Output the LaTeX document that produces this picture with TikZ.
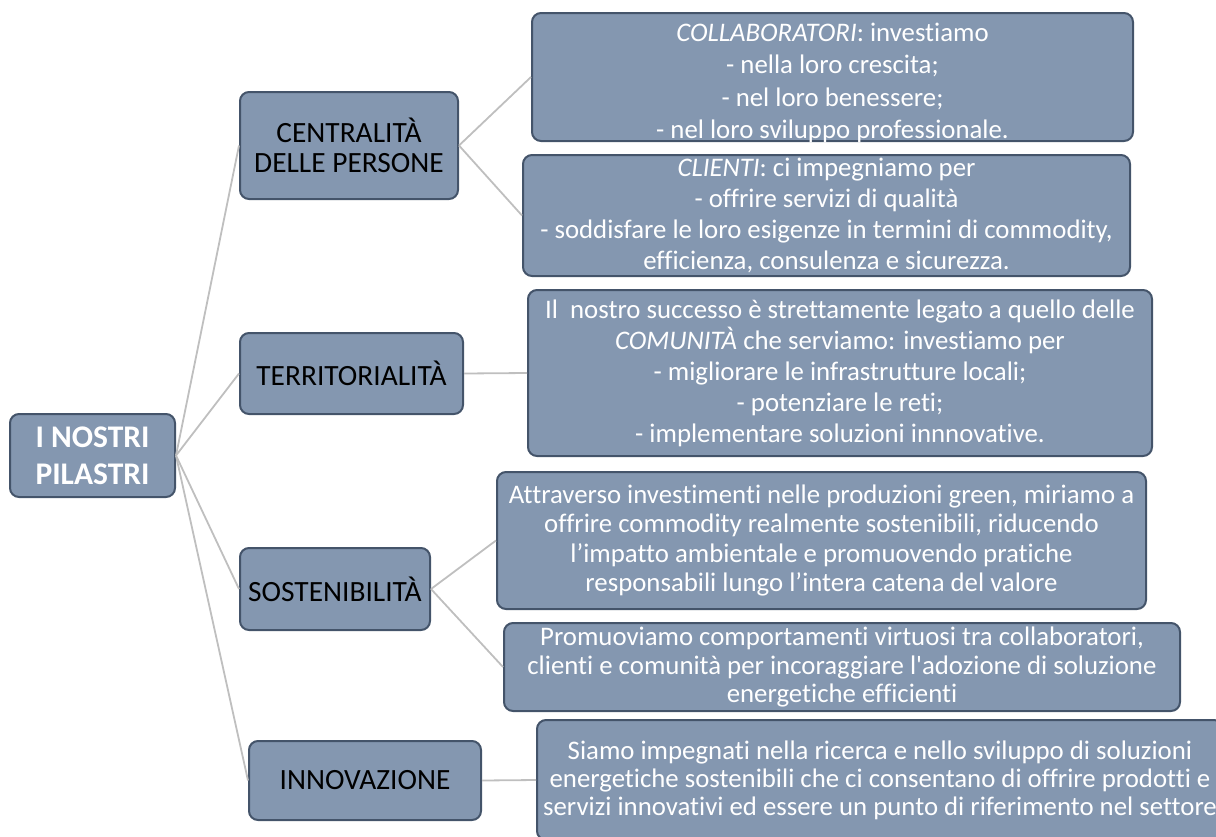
\documentclass[tikz,border=0pt]{standalone}
\usepackage{fontspec}
\setmainfont{Carlito}[Ligatures={TeXOff,NoCommon}]
\definecolor{boxfill}{HTML}{8497B0}
\definecolor{boxedge}{HTML}{44546A}
\definecolor{linkgray}{HTML}{BFBFBF}
\tikzset{
  box/.style={draw=boxedge, fill=boxfill, line width=2pt, rounded corners=9pt,
    align=center, inner sep=0pt, anchor=center},
  rootbox/.style={box, text=white, font=\bfseries\fontsize{31.5}{37}\selectfont},
  pillar/.style={box, text=black, font=\fontsize{29.4}{30}\selectfont},
  detail/.style={box, text=white, font=\fontsize{26.8}{31}\selectfont},
  detailtext/.style={text=white, align=center, inner sep=0pt, font=\fontsize{26.8}{32.5}\selectfont},
  link/.style={draw=linkgray, line width=1.8pt}
}
\begin{document}
\begin{tikzpicture}[x=1pt,y=-1pt]
\useasboundingbox (0,0) rectangle (1216,836);
\clip (0,0) rectangle (1216,836);

% root
\node[rootbox, minimum width=165pt, minimum height=83pt] (root) at (92.5,455.5)
  {I NOSTRI\\PILASTRI};

% pillars
\node[pillar, minimum width=218pt, minimum height=107pt] (cent) at (349,145.5)
  {CENTRALITÀ\\DELLE PERSONE};
\node[pillar, minimum width=223pt, minimum height=81pt] (terr) at (351.5,373.5)
  {TERRITORIALITÀ};
\node[pillar, minimum width=190pt, minimum height=82pt] (sost) at (335,589)
  {SOSTENIBILITÀ};
\node[pillar, minimum width=232pt, minimum height=79pt] (inno) at (365,780.5)
  {INNOVAZIONE};

% details
\node[detail, minimum width=601pt, minimum height=128pt] (coll) at (832.5,77) {};
\node[detailtext] (colltext) at (832.5,83)
  {\textit{COLLABORATORI}: investiamo\\- nella loro crescita;\\- nel loro benessere;\\- nel loro sviluppo professionale.};
\node[detail, minimum width=607pt, minimum height=121pt] (clie) at (826.5,215.5)
  {\textit{CLIENTI}: ci impegniamo per\\- offrire servizi di qualità\\- soddisfare le loro esigenze in termini di commodity,\\efficienza, consulenza e sicurezza.};
\node[detail, minimum width=624pt, minimum height=166pt] (comu) at (840,373)
  {Il\ \ nostro successo è strettamente legato a quello delle\\\textit{COMUNITÀ} che serviamo: investiamo per\\- migliorare le infrastrutture locali;\\- potenziare le reti;\\- implementare soluzioni innnovative.};
\node[detail, minimum width=649pt, minimum height=137pt, font=\fontsize{26.8}{29.5}\selectfont] (attr) at (821.5,540.5)
  {Attraverso investimenti nelle produzioni green, miriamo a\\offrire commodity realmente sostenibili, riducendo\\l’impatto ambientale e promuovendo pratiche\\responsabili lungo l’intera catena del valore};
\node[detail, minimum width=676pt, minimum height=88pt, font=\fontsize{26.8}{28.5}\selectfont] (prom) at (842,667)
  {Promuoviamo comportamenti virtuosi tra collaboratori,\\clienti e comunità per incoraggiare l'adozione di soluzione\\energetiche efficienti};
\node[detail, minimum width=686pt, minimum height=120pt, font=\fontsize{26.8}{28}\selectfont] (siam) at (880,780)
  {Siamo impegnati nella ricerca e nello sviluppo di soluzioni\\energetiche sostenibili che ci consentano di offrire prodotti e\\servizi innovativi ed essere un punto di riferimento nel settore};

% connectors
\draw[link] (root.east) -- (cent.west);
\draw[link] (root.east) -- (terr.west);
\draw[link] (root.east) -- (sost.west);
\draw[link] (root.east) -- (inno.west);
\draw[link] (cent.east) -- (coll.west);
\draw[link] (cent.east) -- (clie.west);
\draw[link] (terr.east) -- (comu.west);
\draw[link] (sost.east) -- (attr.west);
\draw[link] (sost.east) -- (prom.west);
\draw[link] (inno.east) -- (siam.west);
\end{tikzpicture}
\end{document}
